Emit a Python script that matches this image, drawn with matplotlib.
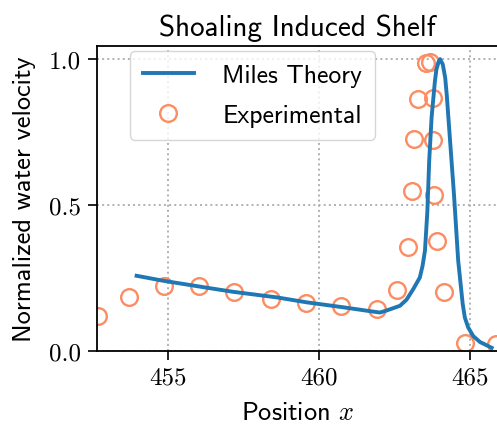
import matplotlib
matplotlib.use("Agg")
import matplotlib.pyplot as plt

plt.rcParams['font.family'] = ['cmss10', 'DejaVu Sans']
plt.rcParams['mathtext.fontset'] = 'cm'
plt.rcParams['axes.formatter.use_mathtext'] = True

# Miles theory curve
theory_x = [453.95, 454.83, 456.22, 457.15, 458.59, 459.58, 460.79, 461.79, 462.01,
            462.23, 462.67, 462.89, 463.11, 463.33, 463.42, 463.50, 463.58, 463.64,
            463.72, 463.83, 463.88, 463.94, 464.00, 464.09, 464.17, 464.22, 464.30,
            464.46, 464.60, 464.75, 464.82, 464.93, 465.10, 465.32, 465.71]
theory_y = [0.257, 0.240, 0.217, 0.202, 0.183, 0.166, 0.149, 0.134, 0.131,
            0.138, 0.154, 0.175, 0.211, 0.251, 0.291, 0.343, 0.479, 0.651,
            0.801, 0.925, 0.965, 0.988, 1.000, 0.982, 0.936, 0.879, 0.765,
            0.537, 0.309, 0.160, 0.114, 0.080, 0.050, 0.030, 0.010]

# Experimental measurements
exp_x = [452.68, 453.70, 454.86, 456.03, 457.19, 458.40, 459.56, 460.71, 461.92,
         462.56, 462.93, 463.06, 463.15, 463.26, 463.53, 463.67, 463.77, 463.75,
         463.80, 463.89, 464.13, 464.81, 465.85]
exp_y = [0.120, 0.183, 0.223, 0.221, 0.202, 0.179, 0.163, 0.152, 0.143,
         0.209, 0.356, 0.548, 0.725, 0.862, 0.988, 0.990, 0.868, 0.723,
         0.534, 0.377, 0.200, 0.026, 0.023]

fig = plt.figure(figsize=(4.97, 4.27), dpi=100)
ax = fig.add_axes([0.1946, 0.1763, 0.8075, 0.7136])

ax.plot(theory_x, theory_y, color="#1f77b4", linewidth=2.8, label="Miles Theory", zorder=3)
ax.plot(exp_x, exp_y, linestyle="none", marker="o", markersize=12, markerfacecolor="none",
        markeredgecolor="#FC8D62", markeredgewidth=1.7, label="Experimental", zorder=2)

ax.set_xlim(452.63, 465.92)
ax.set_ylim(0, 1.045)
ax.set_xticks([455, 460, 465])
ax.set_yticks([0.0, 0.5, 1.0])
ax.set_xticklabels(["455", "460", "465"])
ax.set_yticklabels(["0.0", "0.5", "1.0"])
for lab in ax.get_xticklabels() + ax.get_yticklabels():
    lab.set_fontfamily("cmr10")
    lab.set_fontsize(18)
ax.tick_params(length=6.5, width=1.2, pad=5)
for s in ax.spines.values():
    s.set_linewidth(1.3)

ax.grid(True, linestyle=":", color="#b0b0b0", linewidth=1.4)
ax.set_title("Shoaling Induced Shelf", fontsize=21, pad=8)
ax.set_xlabel("Position $x$", fontsize=19, labelpad=9)
ax.set_ylabel("Normalized water velocity", fontsize=19, labelpad=9)

ax.legend(loc="upper left", fontsize=18.5, bbox_to_anchor=(0.07, 1.0), borderaxespad=0.2,
          handlelength=2.0, handletextpad=1.1, labelspacing=0.65, borderpad=0.5)

fig.savefig("out.png", dpi=100)
